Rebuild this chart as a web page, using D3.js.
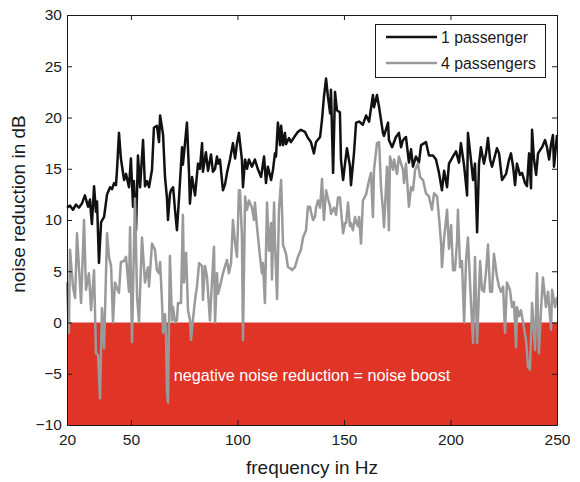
<!DOCTYPE html>
<html><head><meta charset="utf-8">
<script src="https://cdn.jsdelivr.net/npm/d3@7"></script>
<style>body{margin:0;background:#fff}svg{display:block;font-family:"Liberation Sans",Arial,Helvetica,sans-serif}</style>
</head><body><svg id="c" width="580" height="482"></svg>
<script>
const xTicks = [20, 50, 100, 150, 200, 250];
const yTicks = [-10, -5, 0, 5, 10, 15, 20, 25, 30];
const seriesNames = ["1 passenger", "4 passengers"];
const freq1 = [20.0,21.4,22.8,24.2,25.6,27.0,28.4,29.9,30.8,31.3,31.7,32.7,33.6,34.1,35.0,36.0,37.4,38.8,40.2,41.1,42.1,43.0,43.5,44.4,45.3,46.8,47.7,49.1,50.0,51.0,51.4,52.4,53.3,54.3,55.7,56.6,57.6,58.5,59.9,60.8,62.2,63.2,63.7,64.6,65.1,66.0,66.9,67.4,68.3,68.8,69.8,70.7,71.6,72.6,74.0,74.4,75.4,76.3,77.3,77.7,78.7,80.1,81.5,82.4,83.4,83.8,85.2,86.2,87.6,88.5,89.5,90.4,90.9,91.8,93.2,94.2,95.1,96.5,97.9,98.9,99.8,100.7,102.1,102.6,103.6,104.5,105.4,106.8,108.2,109.7,111.1,112.5,113.4,114.3,115.8,116.7,117.6,118.1,119.0,120.0,120.5,121.4,122.3,122.8,124.2,125.1,127.0,128.4,129.8,131.7,133.1,134.5,135.9,136.9,138.8,139.7,140.6,141.6,142.5,143.5,143.9,144.9,145.8,146.7,148.1,148.6,149.6,150.5,151.4,152.8,153.3,154.7,155.7,157.1,158.9,160.4,161.8,163.6,164.1,165.5,166.5,168.3,168.8,170.7,171.1,172.6,174.4,175.8,176.8,177.7,179.1,180.5,181.5,182.4,183.8,185.2,186.2,188.5,189.9,191.8,193.2,194.6,196.0,197.0,198.4,199.3,201.2,202.6,204.0,204.9,206.4,207.8,208.2,209.6,210.6,211.5,212.5,213.4,214.3,215.7,216.7,217.6,218.6,219.5,220.4,221.8,222.8,224.2,226.1,227.5,228.4,229.4,230.3,231.2,232.6,233.6,235.0,235.9,236.9,237.8,238.3,239.2,240.2,241.1,242.0,243.0,244.4,245.3,246.3,247.2,248.1,248.6,250.0];
const nr1 = [11.2,11.4,11.0,11.5,11.2,11.6,12.4,11.3,12.0,10.5,9.6,13.3,10.8,11.8,5.8,9.8,10.3,12.5,13.2,13.0,13.6,13.4,15.0,18.5,16.0,13.9,14.5,13.2,16.0,11.3,13.8,9.0,16.3,13.2,17.8,13.3,13.8,13.2,14.9,19.0,19.2,17.6,20.2,19.0,18.3,14.2,12.2,10.0,12.5,12.9,13.2,11.0,9.0,12.2,17.1,15.4,17.5,19.5,14.5,11.6,14.2,12.4,15.5,15.0,17.5,14.7,16.6,14.8,16.4,14.7,15.0,16.2,15.5,15.9,12.9,13.5,14.6,15.9,17.5,16.0,17.5,18.5,15.9,13.2,15.9,15.0,15.9,15.2,15.9,14.9,14.2,16.2,13.6,15.2,13.9,14.9,16.5,16.2,19.5,17.3,19.2,17.3,18.5,17.4,18.0,17.6,18.2,18.6,18.8,18.6,18.0,17.6,16.5,17.6,18.1,19.8,22.0,23.8,22.0,20.4,22.7,14.6,22.5,20.7,20.5,15.9,13.9,15.5,17.0,15.3,13.4,16.5,19.5,19.6,19.3,20.2,19.6,22.2,21.0,22.2,21.0,18.5,18.2,19.5,17.8,17.1,18.1,18.5,17.1,17.8,18.1,15.6,16.9,15.2,16.2,15.6,17.3,17.6,16.3,16.3,15.9,14.6,12.9,14.8,13.2,15.5,16.2,16.7,15.6,17.5,15.3,12.4,18.5,15.9,13.9,15.5,8.8,15.5,17.1,15.5,16.5,18.0,15.9,15.2,15.9,17.0,16.5,13.9,14.5,15.9,16.5,15.2,13.4,15.5,14.4,14.6,13.6,13.3,16.5,13.1,18.8,15.9,14.4,16.5,16.8,17.1,17.8,17.1,15.9,17.4,18.3,15.2,18.3];
const freq4 = [20.0,20.9,21.4,22.8,23.8,24.7,25.6,26.6,28.0,28.9,30.3,31.3,32.7,33.6,34.6,35.5,36.4,37.4,38.8,39.7,40.7,41.6,42.5,43.5,44.4,45.3,46.8,47.7,49.1,49.6,50.5,51.9,52.9,53.8,55.2,56.6,58.0,58.5,59.9,61.3,62.2,63.2,63.7,64.6,65.1,66.0,66.5,66.9,67.4,68.3,69.3,69.8,70.7,71.6,72.1,73.5,74.4,74.9,75.9,76.8,77.7,78.2,79.1,80.1,81.0,82.0,83.4,83.8,84.8,85.7,87.1,88.1,89.0,89.5,90.4,90.9,91.8,93.2,94.2,95.1,96.0,97.0,97.9,98.9,99.8,100.7,101.2,102.1,102.6,103.6,104.5,105.4,106.8,107.8,108.2,109.2,110.6,111.5,112.0,112.9,113.9,114.8,115.8,116.2,117.2,117.6,118.6,119.5,120.5,121.4,122.8,123.7,124.7,125.6,127.0,128.4,129.8,130.8,132.2,133.1,134.1,134.5,135.5,136.4,136.9,137.8,138.8,139.7,140.6,141.6,142.5,143.5,143.9,145.3,146.3,147.2,148.1,148.6,149.6,150.5,151.0,151.9,152.8,153.3,154.2,155.2,155.7,156.6,157.1,158.0,158.9,160.4,161.8,162.7,163.6,164.1,165.5,166.5,167.4,168.3,168.8,170.2,171.1,171.6,173.0,173.5,174.9,175.8,177.7,178.2,179.1,180.5,181.5,182.4,183.4,184.8,185.7,187.1,188.5,189.9,191.3,192.3,193.7,194.6,195.6,196.0,197.0,198.4,199.3,200.3,201.2,202.1,203.1,203.5,204.5,205.4,206.4,207.3,208.2,209.6,210.6,211.5,212.5,213.9,214.8,215.7,216.7,217.6,218.6,219.5,220.4,221.8,222.8,223.7,224.7,225.6,226.5,227.9,228.9,229.8,230.8,231.2,232.2,233.1,234.5,235.5,236.4,237.3,238.3,239.7,240.6,241.5,242.5,243.4,244.8,245.8,247.2,247.7,249.1,250.0];
const nr4 = [3.9,-1.0,7.1,3.5,2.4,8.7,5.4,1.9,10.0,3.2,4.8,1.2,5.1,-3.0,-3.2,-7.4,1.4,-2.5,8.7,6.4,5.5,0.0,3.9,3.3,2.9,5.9,6.0,6.4,3.0,9.3,-1.9,12.1,2.5,0.0,8.3,3.9,5.4,3.5,7.7,7.1,5.1,4.8,5.9,2.0,-1.0,0.8,-1.4,-6.5,-7.8,6.5,0.2,1.5,0.0,0.2,1.9,1.9,10.5,3.9,6.8,1.2,0.3,-1.7,0.2,2.2,3.5,5.8,5.5,2.2,5.5,4.5,0.2,4.2,7.4,0.0,4.8,2.8,3.5,4.8,5.5,6.1,4.8,5.8,10.0,7.7,6.4,12.9,12.9,8.5,-1.7,12.3,11.0,11.9,11.2,10.0,11.7,9.3,6.4,4.8,5.8,1.9,11.7,7.0,9.7,4.2,11.7,8.0,2.3,11.0,13.9,7.6,6.7,5.4,5.3,5.1,5.4,6.4,7.1,8.3,9.0,11.3,11.3,10.8,10.0,10.3,11.2,11.9,11.2,14.0,10.0,12.9,12.1,11.3,10.6,11.2,10.5,12.2,12.2,11.0,8.7,9.7,9.7,11.7,9.4,9.7,9.0,10.3,9.8,9.4,10.3,7.7,11.9,12.5,13.9,14.6,10.3,14.9,17.5,17.6,13.2,11.0,9.3,15.2,9.0,16.2,14.9,15.9,14.5,16.2,14.9,13.6,15.5,11.3,13.2,12.9,14.9,15.5,14.2,13.9,12.6,12.3,11.0,12.6,12.3,10.3,7.7,5.4,8.2,11.0,7.2,9.5,5.1,5.1,8.0,11.0,5.4,6.0,0.0,6.0,8.3,2.0,-2.0,6.4,-2.0,6.0,3.2,3.0,5.0,7.6,3.0,3.0,6.7,4.5,3.5,3.0,3.5,-1.0,3.9,3.2,1.5,2.0,-2.4,1.5,0.6,1.2,-0.5,-1.8,-4.3,-4.6,1.9,-2.7,4.8,-3.0,1.2,4.4,1.5,3.0,-0.7,3.2,1.5,2.5];

const L = 67, R = 557, T = 15, B = 425;
const x = d3.scaleLinear().domain([20, 250]).range([L, R]);
const y = d3.scaleLinear().domain([-10, 30]).range([B, T]);
const svg = d3.select("#c");

// negative region
svg.append("rect").attr("x", x(20)).attr("y", y(0)).attr("width", x(250) - x(20)).attr("height", y(-10) - y(0)).attr("fill", "#e03427");

svg.append("text").attr("x", (L + R) / 2).attr("y", y(-5.7)).attr("text-anchor", "middle")
  .attr("fill", "#fff").attr("font-size", 16.2).text("negative noise reduction = noise boost");

const line = d3.line().x(d => x(d[0])).y(d => y(d[1]));
const s1 = freq1.map((f, i) => [f, nr1[i]]);
const s4 = freq4.map((f, i) => [f, nr4[i]]);
const colors = ["#111111", "#9a9a9a"];
svg.append("path").datum(s1).attr("d", line).attr("fill", "none").attr("stroke", colors[0]).attr("stroke-width", 2.5).attr("stroke-linejoin", "round");
svg.append("path").datum(s4).attr("d", line).attr("fill", "none").attr("stroke", colors[1]).attr("stroke-width", 2.5).attr("stroke-linejoin", "round");

// axes (ticks inward)
const fs = 15.5;
const ax = svg.append("g").attr("transform", `translate(0,${B})`).call(d3.axisBottom(x).tickValues(xTicks).tickSizeInner(-5).tickSizeOuter(0).tickPadding(9));
const ay = svg.append("g").attr("transform", `translate(${L},0)`).call(d3.axisLeft(y).tickValues(yTicks).tickSizeInner(-5).tickSizeOuter(0).tickPadding(9));
const axT = svg.append("g").attr("transform", `translate(0,${T})`).call(d3.axisTop(x).tickValues(xTicks).tickSizeInner(-5).tickSizeOuter(0).tickFormat(""));
const ayR = svg.append("g").attr("transform", `translate(${R},0)`).call(d3.axisRight(y).tickValues(yTicks).tickSizeInner(-5).tickSizeOuter(0).tickFormat(""));
[ax, ay, axT, ayR].forEach(g => {
  g.selectAll(".domain").attr("stroke", "#1a1a1a").attr("stroke-width", 1);
  g.selectAll(".tick line").attr("stroke", "#1a1a1a");
  g.selectAll("text").attr("font-size", fs).attr("fill", "#1a1a1a").attr("font-family", "Liberation Sans, Arial, sans-serif");
});
ay.selectAll("text").attr("dx", "0.25em");

svg.append("text").attr("x", (L + R) / 2).attr("y", 474).attr("text-anchor", "middle")
  .attr("font-size", 19).attr("fill", "#1a1a1a").text("frequency in Hz");
svg.append("text").attr("transform", `translate(25,${(T + B) / 2 - 16}) rotate(-90)`).attr("text-anchor", "middle")
  .attr("font-size", 19).attr("fill", "#1a1a1a").text("noise reduction in dB");

// legend
const lg = svg.append("g");
lg.append("rect").attr("x", 375.5).attr("y", 24.5).attr("width", 170).attr("height", 53).attr("fill", "#fff").attr("stroke", "#1a1a1a").attr("stroke-width", 1);
seriesNames.forEach((n, i) => {
  const yy = 37 + i * 26;
  lg.append("line").attr("x1", 386).attr("x2", 437).attr("y1", yy).attr("y2", yy).attr("stroke", colors[i]).attr("stroke-width", 2.5);
  lg.append("text").attr("x", 441).attr("y", yy).attr("dy", "0.35em").attr("font-size", 15.8).attr("fill", "#1a1a1a").text(n);
});
</script></body></html>
